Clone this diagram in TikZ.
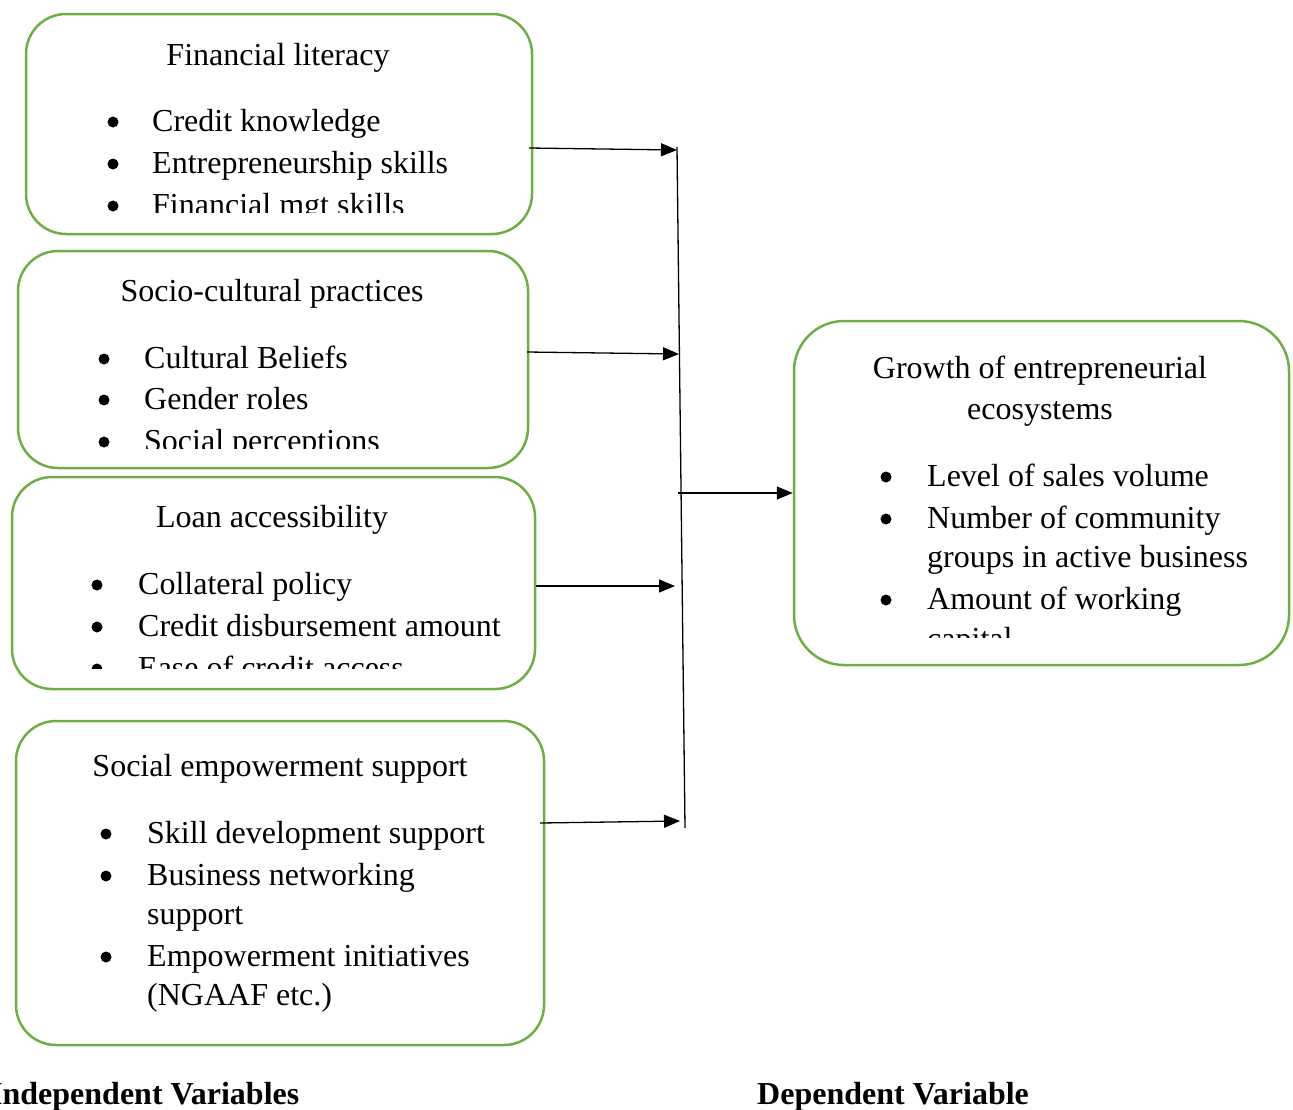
\documentclass[tikz,border=0pt]{standalone}
\usepackage{fontspec}
\setmainfont{Liberation Serif}
\usetikzlibrary{arrows.meta}
\definecolor{boxgreen}{RGB}{112,173,71}
\tikzstyle{var} = [draw=boxgreen, line width=2.5pt, rounded corners=40pt, inner sep=0pt]
\tikzstyle{title} = [anchor=base, inner sep=0pt, font=\fontsize{32}{40}\selectfont]
\tikzstyle{item} = [anchor=base west, inner sep=0pt, font=\fontsize{32}{40}\selectfont]
\tikzstyle{dot} = [circle, fill, minimum size=11pt, inner sep=0pt]
\tikzstyle{heading} = [anchor=base west, inner sep=0pt, font=\bfseries\fontsize{32}{40}\selectfont]
\tikzstyle{link} = [-{Triangle[length=16pt, width=13pt]}, line width=1.3pt]

\begin{document}
\begin{tikzpicture}[x=1pt, y=-1pt]
    \useasboundingbox (0, 0) rectangle (1293, 1109);

    % Boxes.
    \node (finlit) [var, minimum width=506pt, minimum height=220pt] at (279, 124) {};
    \node (socio) [var, minimum width=510pt, minimum height=217pt] at (273, 359.5) {};
    \node (loan) [var, minimum width=523pt, minimum height=212pt] at (273.5, 583) {};
    \node (empower) [var, minimum width=528pt, minimum height=324pt] at (280, 883) {};
    \node (growth) [var, rounded corners=50pt, minimum width=495pt, minimum height=344pt] at (1041.5, 493) {};

    % Financial literacy.
    \node (finlit title) [title] at (278, 65) {Financial literacy};
    \begin{scope}
        \clip (30, 80) rectangle (530, 212);
        \node (finlit dot 1) [dot] at (113, 122) {};
        \node (finlit dot 2) [dot] at (113, 164) {};
        \node (finlit dot 3) [dot] at (113, 206) {};
        \node (finlit item 1) [item] at (152, 131) {Credit knowledge};
        \node (finlit item 2) [item] at (152, 173) {Entrepreneurship skills};
        \node (finlit item 3) [item] at (152, 215) {Financial mgt skills};
    \end{scope}

    % Socio-cultural practices.
    \node (socio title) [title] at (272, 301) {Socio-cultural practices};
    \begin{scope}
        \clip (25, 320) rectangle (525, 448);
        \node (socio dot 1) [dot] at (104, 359) {};
        \node (socio dot 2) [dot] at (104, 400) {};
        \node (socio dot 3) [dot] at (104, 442) {};
        \node (socio item 1) [item] at (144, 368) {Cultural Beliefs};
        \node (socio item 2) [item] at (144, 409) {Gender roles};
        \node (socio item 3) [item] at (144, 451) {Social perceptions};
    \end{scope}

    % Loan accessibility.
    \node (loan title) [title] at (272, 527) {Loan accessibility};
    \begin{scope}
        \clip (20, 545) rectangle (530, 668);
        \node (loan dot 1) [dot] at (97, 585) {};
        \node (loan dot 2) [dot] at (97, 627) {};
        \node (loan dot 3) [dot] at (97, 669) {};
        \node (loan item 1) [item] at (138, 594) {Collateral policy};
        \node (loan item 2) [item] at (138, 636) {Credit disbursement amount};
        \node (loan item 3) [item] at (138, 678) {Ease of credit access};
    \end{scope}

    % Social empowerment support.
    \node (empower title) [title] at (280, 776) {Social empowerment support};
    \node (empower dot 1) [dot] at (106, 834) {};
    \node (empower dot 2) [dot] at (106, 876) {};
    \node (empower dot 3) [dot] at (106, 957) {};
    \node (empower item 1) [item] at (147, 843) {Skill development support};
    \node (empower item 2) [item] at (147, 885) {Business networking};
    \node (empower item 2b) [item] at (147, 924) {support};
    \node (empower item 3) [item] at (147, 966) {Empowerment initiatives};
    \node (empower item 3b) [item] at (147, 1005) {(NGAAF etc.)};

    % Growth of entrepreneurial ecosystems.
    \node (growth title) [title] at (1040, 378) {Growth of entrepreneurial};
    \node (growth title b) [title] at (1040, 419) {ecosystems};
    \begin{scope}
        \clip (800, 440) rectangle (1285, 637);
        \node (growth dot 1) [dot] at (886, 477) {};
        \node (growth dot 2) [dot] at (886, 519) {};
        \node (growth dot 3) [dot] at (886, 600) {};
        \node (growth item 1) [item] at (927, 486) {Level of sales volume};
        \node (growth item 2) [item] at (927, 528) {Number of community};
        \node (growth item 2b) [item] at (927, 567) {groups in active business};
        \node (growth item 3) [item] at (927, 609) {Amount of working};
        \node (growth item 3b) [item] at (927, 649) {capital};
    \end{scope}

    % Headings.
    \node (indep) [heading] at (-10, 1104) {Independent Variables};
    \node (dep) [heading] at (757, 1104) {Dependent Variable};

    % Bus.
    \coordinate (bus top) at (677, 147);
    \coordinate (bus bottom) at (685, 828);
    \coordinate (bus 1) at (677, 150);
    \coordinate (bus 2) at (679, 354);
    \coordinate (bus 3) at (675, 586);
    \coordinate (bus 4) at (680, 821);
    \coordinate (bus out) at (678, 493);

    \coordinate (finlit out) at (529, 148);
    \coordinate (socio out) at (527, 352);
    \coordinate (loan out) at (536, 586);
    \coordinate (empower out) at (540, 823);

    % Paths.
    \draw [line width=1.3pt] (bus top) -- (bus bottom);
    \draw [link] (finlit out) -- (bus 1);
    \draw [link] (socio out) -- (bus 2);
    \draw [link] (loan out) -- (bus 3);
    \draw [link] (empower out) -- (bus 4);
    \draw [link] (bus out) -- (growth.west);
\end{tikzpicture}
\end{document}
